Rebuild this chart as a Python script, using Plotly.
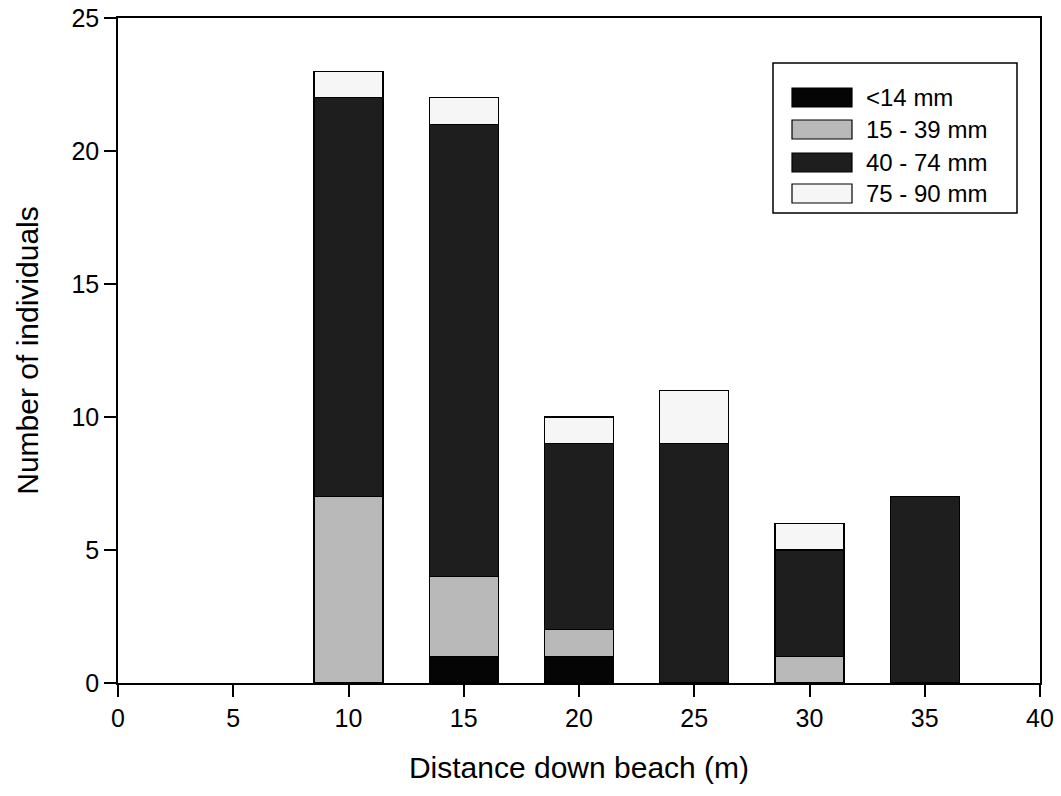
import plotly.graph_objects as go

# Stacked counts of individuals by size class at each sampling distance
distance = [10, 15, 20, 25, 30, 35]
size_classes = ["<14 mm", "15 - 39 mm", "40 - 74 mm", "75 - 90 mm"]
lt14 = [0, 1, 1, 0, 0, 0]
s15_39 = [7, 3, 1, 0, 1, 0]
s40_74 = [15, 17, 7, 9, 4, 7]
s75_90 = [1, 1, 1, 2, 1, 0]
series = [lt14, s15_39, s40_74, s75_90]
colors = ["#050505", "#b9b9b9", "#1e1e1e", "#f6f6f6"]

x_ticks = [0, 5, 10, 15, 20, 25, 30, 35, 40]
y_ticks = [0, 5, 10, 15, 20, 25]

FONT = "Liberation Sans, Arial, sans-serif"

fig = go.Figure()
for name, vals, col in zip(size_classes, series, colors):
    fig.add_trace(go.Bar(
        x=distance, y=vals, name=name, width=3,
        marker=dict(color=col, line=dict(color="#000000", width=1.2)),
        showlegend=False,
    ))

# Boxed legend drawn in paper coordinates
W, H, L, T = 922.0, 665.0, 118.0, 18.0
def px(x):
    return (x - L) / W
def py(y):
    return (T + H - y) / H

shapes = [dict(type="rect", xref="paper", yref="paper",
               x0=px(773), x1=px(1017), y0=py(213), y1=py(63),
               line=dict(color="#000000", width=1.5), fillcolor="white", layer="above")]
annotations = []
row_tops = [88, 120, 153, 184]
for name, col, top in zip(size_classes, colors, row_tops):
    shapes.append(dict(type="rect", xref="paper", yref="paper",
                       x0=px(792), x1=px(852), y0=py(top + 19), y1=py(top),
                       line=dict(color="#000000", width=1.2), fillcolor=col, layer="above"))
    annotations.append(dict(xref="paper", yref="paper", x=px(864), y=py(top + 9.5),
                            text=name, showarrow=False, xanchor="left", yanchor="middle",
                            font=dict(family=FONT, size=24, color="#000000")))

fig.update_layout(
    width=1061, height=796,
    margin=dict(l=118, r=21, t=18, b=113),
    paper_bgcolor="white", plot_bgcolor="white",
    barmode="stack",
    showlegend=False,
    font=dict(family=FONT, color="#000000"),
    shapes=shapes,
    annotations=annotations,
    xaxis=dict(range=[0, 40], tickvals=x_ticks, ticks="outside", ticklen=12, tickwidth=1.5,
               tickcolor="#000000", showline=True, linecolor="#000000", linewidth=1.5,
               mirror=True, showgrid=False, zeroline=False, automargin=False,
               tickfont=dict(size=25, family=FONT),
               title=dict(text="Distance down beach (m)", font=dict(size=30, family=FONT),
                          standoff=26)),
    yaxis=dict(range=[0, 25], tickvals=y_ticks, ticks="outside", ticklen=12, tickwidth=1.5,
               tickcolor="#000000", showline=True, linecolor="#000000", linewidth=1.5,
               mirror=True, showgrid=False, zeroline=False, automargin=False,
               tickfont=dict(size=25, family=FONT),
               title=dict(text="Number of individuals", font=dict(size=30, family=FONT),
                          standoff=24)),
)

fig.write_html("out.html")
